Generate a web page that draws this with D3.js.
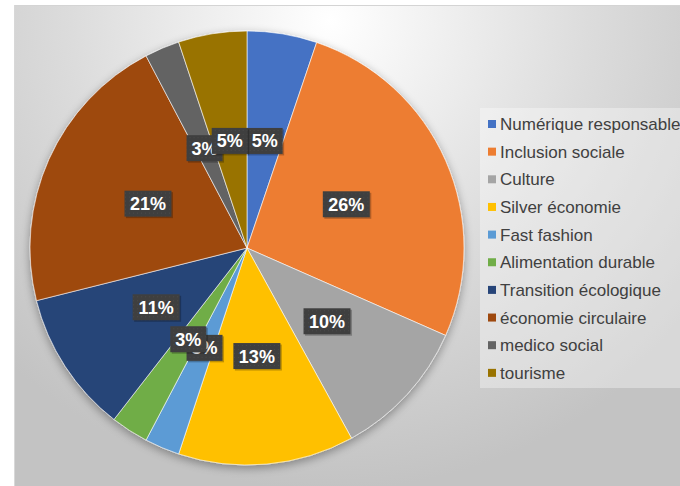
<!DOCTYPE html>
<html><head><meta charset="utf-8">
<script src="https://cdn.jsdelivr.net/npm/d3@7"></script>
<style>body{margin:0;background:#fff}svg{display:block}</style>
</head><body>
<svg id="c" width="680" height="486"></svg>
<script>
const categories = ["Numérique responsable","Inclusion sociale","Culture","Silver économie","Fast fashion","Alimentation durable","Transition écologique","économie circulaire","medico social","tourisme"];
const values = [5.2, 26.4, 10.4, 13.1, 2.6, 2.8, 10.6, 21.2, 2.6, 5.1];
const labels = ["5%","26%","10%","13%","3%","3%","11%","21%","3%","5%"];
const colors = ["#4472c4","#ed7d31","#a5a5a5","#ffc000","#5b9bd5","#70ad47","#264478","#9e480e","#636363","#997300"];

const svg = d3.select("#c");
const defs = svg.append("defs");
const rg = defs.append("radialGradient").attr("id","bg").attr("gradientUnits","userSpaceOnUse")
  .attr("cx",330).attr("cy",20).attr("r",470);
rg.append("stop").attr("offset","0").attr("stop-color","#ffffff");
rg.append("stop").attr("offset","0.55").attr("stop-color","#dcdcdc");
rg.append("stop").attr("offset","1").attr("stop-color","#c3c3c3");
const sh = defs.append("filter").attr("id","sh").attr("x","-20%").attr("y","-20%").attr("width","140%").attr("height","140%");
sh.append("feGaussianBlur").attr("in","SourceAlpha").attr("stdDeviation",5).attr("result","b");
sh.append("feOffset").attr("in","b").attr("dx",0).attr("dy",3).attr("result","o");
sh.append("feComponentTransfer").attr("in","o").attr("result","o2").append("feFuncA").attr("type","linear").attr("slope",0.35);
const m = sh.append("feMerge"); m.append("feMergeNode").attr("in","o2"); m.append("feMergeNode").attr("in","SourceGraphic");
const pat = defs.append("pattern").attr("id","dots").attr("width",4).attr("height",4).attr("patternUnits","userSpaceOnUse");
pat.append("rect").attr("width",4).attr("height",4).attr("fill","#3f3f3f");
pat.append("rect").attr("x",1).attr("y",1).attr("width",1).attr("height",1).attr("fill","#4a4a4a");

svg.append("rect").attr("x",14).attr("y",6).attr("width",666).attr("height",480).attr("fill","url(#bg)");
svg.append("line").attr("x1",14).attr("x2",680).attr("y1",5.5).attr("y2",5.5).attr("stroke","#d4d4d4");
svg.append("line").attr("x1",14.5).attr("x2",14.5).attr("y1",5).attr("y2",486).attr("stroke","#d8d8d8");

const cx = 247, cy = 248, R = 217;
const pie = d3.pie().sort(null).value(d => d);
const arcs = pie(values);
const arc = d3.arc().innerRadius(0).outerRadius(R);
const lab = d3.arc().innerRadius(R*0.5).outerRadius(R*0.5);
const g = svg.append("g").attr("transform",`translate(${cx},${cy})`);
g.append("g").attr("filter","url(#sh)").selectAll("path").data(arcs).join("path")
  .attr("d",arc).attr("fill",(d,i)=>colors[i]).attr("stroke","#fff").attr("stroke-width",0.6);

const lg = g.append("g");
arcs.forEach((d,i) => {
  const [x,y] = lab.centroid(d);
  const t = labels[i];
  const w = t.length === 3 ? 47 : 36, h = 26;
  const gg = lg.append("g").attr("transform",`translate(${x},${y})`);
  gg.append("rect").attr("x",-w/2+1.5).attr("y",-h/2+1.5).attr("width",w).attr("height",h).attr("fill","rgba(0,0,0,0.25)");
  gg.append("rect").attr("x",-w/2).attr("y",-h/2).attr("width",w).attr("height",h).attr("fill","url(#dots)");
  gg.append("text").attr("text-anchor","middle").attr("dy","0.36em")
    .attr("font-family","Liberation Sans, Arial, sans-serif").attr("font-weight","bold").attr("font-size",18)
    .attr("fill","#fff").text(t);
});

// legend
svg.append("rect").attr("x",480).attr("y",108).attr("width",200).attr("height",280).attr("fill","#ffffff").attr("opacity",0.35);
const y0 = 124, dy = 27.65;
const leg = svg.append("g");
categories.forEach((c,i) => {
  const y = y0 + i*dy;
  leg.append("rect").attr("x",488).attr("y",y-4).attr("width",8).attr("height",8).attr("fill",colors[i]);
  leg.append("text").attr("x",500).attr("y",y).attr("dy","0.36em")
    .attr("font-family","Liberation Sans, Arial, sans-serif").attr("font-size",17)
    .attr("fill","#404040").text(c);
});
</script>
</body></html>
